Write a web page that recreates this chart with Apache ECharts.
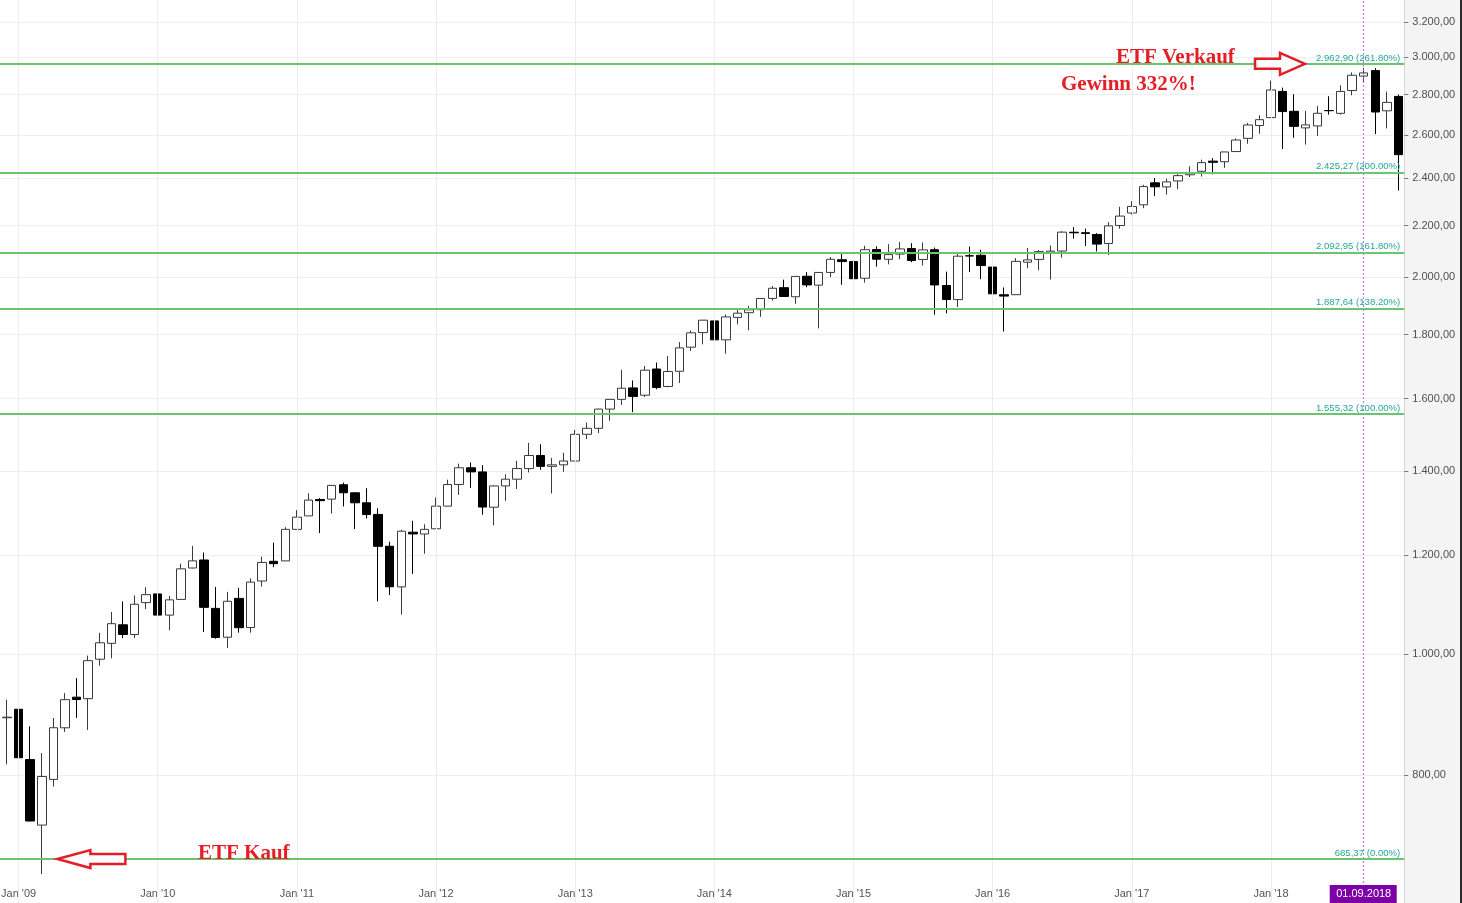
<!DOCTYPE html>
<html><head><meta charset="utf-8">
<script src="https://cdn.jsdelivr.net/npm/echarts@6/dist/echarts.min.js"></script>
<style>html,body{margin:0;padding:0;background:#f4f4f4;overflow:hidden}#c{position:absolute;left:-20px;top:0;width:1482px;height:903px;}</style>
</head><body><div id="c"></div>
<script>
// ---- data ----
var startYear = 2008, startMonth = 11, endYear = 2018, endMonth = 12;
var months = [];
for (var y = startYear, m = startMonth; y < endYear || (y === endYear && m <= endMonth); ) {
  months.push(y + '-' + (m < 10 ? '0' + m : '' + m));
  m++; if (m > 12) { m = 1; y++; }
}
var openV = [
  968.7, 889,
  903.0, 823.1, 729.6, 793.6, 872.7, 923.3, 920.8, 990.2, 1019.5, 1054.9, 1036.2, 1098.9,
  1116.6, 1073.9, 1105.4, 1171.2, 1188.6, 1087.3, 1031.1, 1107.5, 1049.7, 1143.5, 1185.7, 1186.6,
  1257.6, 1289.1, 1328.6, 1329.5, 1365.2, 1345.2, 1320.6, 1292.6, 1219.1, 1131.2, 1251.0, 1246.9,
  1258.9, 1312.5, 1365.9, 1408.5, 1397.9, 1309.9, 1362.3, 1379.3, 1406.5, 1440.9, 1412.2, 1416.2,
  1426.2, 1498.1, 1514.7, 1569.2, 1597.6, 1631.7, 1609.8, 1689.4, 1636.0, 1682.4, 1758.7, 1806.6,
  1845.9, 1782.7, 1857.7, 1874.0, 1884.4, 1923.9, 1962.3, 1929.8, 2004.1, 1971.4, 2018.2, 2065.8,
  2058.9, 1996.7, 2105.2, 2067.6, 2087.4, 2108.6, 2067.0, 2104.5, 1970.1, 1919.7, 2080.8, 2082.9,
  2038.2, 1936.9, 1937.1, 2056.6, 2067.2, 2093.9, 2099.3, 2173.2, 2171.3, 2164.3, 2128.7, 2200.2,
  2251.6, 2285.6, 2380.1, 2362.3, 2388.5, 2415.7, 2431.4, 2477.1, 2474.4, 2521.2, 2583.2, 2645.1,
  2683.7, 2816.5, 2715.2, 2633.5, 2643.0, 2718.7, 2705.0, 2821.2, 2897.0, 2926.3, 2717.6, 2790.5
];
var closeV = [
  896.2, 890,
  825.9, 735.1, 797.9, 872.8, 919.1, 919.3, 987.5, 1020.6, 1057.1, 1036.2, 1095.6, 1115.1,
  1073.9, 1104.5, 1169.4, 1186.7, 1089.4, 1030.7, 1101.6, 1049.3, 1141.2, 1183.3, 1180.6, 1257.6,
  1286.1, 1327.2, 1325.8, 1363.6, 1345.2, 1320.6, 1292.3, 1218.9, 1131.4, 1253.3, 1247.0, 1257.6,
  1312.4, 1365.7, 1408.5, 1397.9, 1310.3, 1362.2, 1379.3, 1406.6, 1440.7, 1412.2, 1416.2, 1426.2,
  1498.1, 1514.7, 1569.2, 1597.6, 1630.7, 1606.3, 1685.7, 1633.0, 1681.6, 1756.5, 1805.8, 1848.4,
  1782.6, 1859.5, 1872.3, 1884.0, 1923.6, 1960.2, 1930.7, 2003.4, 1972.3, 2018.1, 2067.6, 2058.9,
  1995.0, 2104.5, 2067.9, 2085.5, 2107.4, 2063.1, 2103.8, 1972.2, 1920.0, 2079.4, 2080.4, 2043.9,
  1940.2, 1932.2, 2059.7, 2065.3, 2097.0, 2098.9, 2173.6, 2171.0, 2168.3, 2126.2, 2198.8, 2238.8,
  2278.9, 2363.6, 2362.7, 2384.2, 2411.8, 2423.4, 2470.3, 2471.7, 2519.4, 2575.3, 2647.6, 2673.6,
  2823.8, 2713.8, 2640.9, 2648.1, 2705.3, 2718.4, 2816.3, 2901.5, 2914.0, 2711.7, 2760.2, 2506.9
];
var lowV = [
  741.0, 816,
  804.2, 734.5, 666.8, 783.3, 866.1, 888.9, 869.3, 978.5, 992.0, 1029.4, 1029.4, 1085.9,
  1071.6, 1044.5, 1105.4, 1170.7, 1040.8, 1028.3, 1010.9, 1039.7, 1039.7, 1131.9, 1173.0, 1186.6,
  1257.6, 1289.1, 1249.1, 1294.7, 1311.8, 1258.1, 1282.9, 1101.5, 1114.2, 1074.8, 1158.7, 1202.4,
  1258.9, 1312.5, 1340.0, 1357.4, 1292.0, 1266.7, 1325.4, 1354.7, 1396.6, 1403.3, 1343.4, 1398.1,
  1426.2, 1485.0, 1501.5, 1536.0, 1581.3, 1560.3, 1604.6, 1627.5, 1633.4, 1646.5, 1746.2, 1768.0,
  1770.5, 1737.9, 1834.4, 1814.4, 1859.8, 1916.0, 1930.7, 1904.8, 1964.0, 1820.7, 2001.0, 1972.6,
  1988.1, 1980.9, 2039.7, 2048.4, 2067.9, 2056.3, 2044.0, 1867.0, 1871.9, 1893.7, 2019.4, 1993.3,
  1812.3, 1810.1, 1937.1, 2033.8, 2025.9, 1991.7, 2074.0, 2147.6, 2119.1, 2097.5, 2083.8, 2187.4,
  2245.1, 2271.7, 2322.3, 2329.0, 2352.7, 2405.7, 2407.7, 2417.4, 2446.6, 2520.4, 2557.5, 2605.5,
  2682.4, 2532.7, 2585.9, 2553.8, 2594.6, 2698.7, 2699.0, 2796.3, 2864.1, 2603.5, 2631.1, 2346.6
];
var highV = [
  1007.5, 918.9,
  943.9, 875.0, 833.0, 888.7, 930.2, 956.2, 996.7, 1039.5, 1080.2, 1101.4, 1113.7, 1130.4,
  1150.5, 1112.4, 1180.7, 1219.8, 1205.1, 1131.2, 1121.0, 1129.2, 1148.9, 1196.1, 1227.1, 1262.6,
  1302.7, 1344.1, 1332.3, 1364.6, 1370.6, 1345.2, 1356.5, 1307.4, 1229.3, 1256.6, 1277.6, 1269.4,
  1333.5, 1378.0, 1419.2, 1422.4, 1415.3, 1363.5, 1391.7, 1426.7, 1474.5, 1471.0, 1434.3, 1448.0,
  1509.9, 1530.9, 1570.3, 1597.6, 1687.2, 1654.2, 1698.8, 1709.7, 1729.9, 1775.2, 1813.6, 1849.4,
  1850.8, 1867.9, 1884.0, 1897.3, 1924.0, 1968.2, 1991.4, 2005.0, 2019.3, 2018.2, 2075.8, 2093.6,
  2072.4, 2119.6, 2117.5, 2125.9, 2134.7, 2129.9, 2132.8, 2112.7, 2020.9, 2094.3, 2116.5, 2104.3,
  2038.2, 1963.0, 2072.2, 2111.1, 2103.5, 2120.6, 2177.1, 2193.8, 2187.9, 2169.6, 2214.1, 2277.5,
  2301.0, 2371.5, 2401.0, 2398.2, 2418.7, 2453.8, 2484.0, 2490.9, 2519.4, 2583.0, 2657.7, 2695.0,
  2872.9, 2836.0, 2801.9, 2717.5, 2742.2, 2791.5, 2848.0, 2916.5, 2940.9, 2939.9, 2815.2, 2800.2
];
var yTicks = [800, 1000, 1200, 1400, 1600, 1800, 2000, 2200, 2400, 2600, 2800, 3000, 3200];
var fibValues = [2962.90, 2425.27, 2092.95, 1887.64, 1555.32, 685.37];
var fibPct = ['261.80%', '200.00%', '161.80%', '138.20%', '100.00%', '0.00%'];
var markerMonth = '2018-09';
var markerLabel = '01.09.2018';
var buyMonth = '2009-04';

// ---- helpers ----
function de(n) {
  var s = n.toFixed(2).split('.');
  return s[0].replace(/\B(?=(\d{3})+(?!\d))/g, '.') + ',' + s[1];
}
var candles = months.map(function (m, i) { return [openV[i], closeV[i], lowV[i], highV[i]]; });
var janMonths = months.filter(function (m) { return m.slice(5) === '01'; });

var OFF = 20; // chart canvas starts 20px left of the page edge
var chart = echarts.init(document.getElementById('c'), null, { renderer: 'canvas' });
var font = '"Liberation Sans", Arial, sans-serif';
var band = 11.596;
var option = {
  animation: false,
  backgroundColor: '#f4f4f4',
  grid: { left: OFF + 7 - 1.5 * band, right: 1462 - 1404.3, top: 0, bottom: 0, show: true, backgroundColor: '#ffffff', borderWidth: 0 },
  xAxis: {
    type: 'category', data: months, boundaryGap: true,
    axisLine: { show: false }, axisTick: { show: false }, splitLine: { show: false },
    axisLabel: {
      inside: true, margin: 4, color: '#555', fontSize: 11, fontFamily: font,
      interval: function (i, v) { return v.slice(5) === '01'; },
      formatter: function (v) { return "Jan '" + v.slice(2, 4); }
    }
  },
  yAxis: {
    type: 'log', logBase: 10, position: 'right', min: 632.1, max: 3332.6,
    axisLine: { show: true, lineStyle: { color: '#d6d6d6' } },
    axisTick: { show: true, length: 4, customValues: yTicks, lineStyle: { color: '#777' } },
    axisLabel: { customValues: yTicks, margin: 8, color: '#505050', fontSize: 11, fontFamily: font, formatter: function (v) { return de(v); } },
    splitLine: { show: true, lineStyle: { color: '#efefef', width: 1 } }
  },
  series: [
    {
      type: 'line', data: [], z: 1, silent: true,
      markLine: {
        silent: true, symbol: ['none', 'none'], label: { show: false },
        lineStyle: { color: '#ececec', width: 1, type: 'solid' },
        data: janMonths.map(function (m) { return { xAxis: m }; })
      }
    },
    {
      type: 'line', data: [], z: 4, silent: true,
      markLine: {
        silent: true, symbol: ['none', 'none'], label: { show: false },
        lineStyle: { color: '#b25ee0', width: 1.2, type: [2, 2], opacity: 0.8 },
        data: [{ xAxis: markerMonth }]
      }
    },
    {
      type: 'candlestick', data: candles, barWidth: 9, z: 3,
      itemStyle: { color: '#ffffff', color0: '#000000', borderColor: '#3a3a3a', borderColor0: '#000000', borderWidth: 1 },
      markLine: {
        silent: true, symbol: ['none', 'none'],
        data: fibValues.map(function (v, i) {
          return {
            yAxis: v,
            lineStyle: { color: '#6cc46c', width: 2, type: 'solid' },
            label: { show: true, position: 'insideEndTop', distance: [4, 1], color: '#26a69a', fontSize: 9.6, fontFamily: font, formatter: de(v) + ' (' + fibPct[i] + ')' }
          };
        })
      }
    }
  ]
};
chart.setOption(option);

function addGraphics() {
  var topY = chart.convertToPixel({ yAxisIndex: 0 }, fibValues[0]);
  var botY = chart.convertToPixel({ yAxisIndex: 0 }, fibValues[fibValues.length - 1]);
  var mx = chart.convertToPixel({ xAxisIndex: 0 }, markerMonth);
  var bx = chart.convertToPixel({ xAxisIndex: 0 }, buyMonth);
  var red = '#e41e26';
  var tf = 'bold 21px "Liberation Serif", "Times New Roman", serif';
  var ax = bx + 4; // tip of buy arrow just right of the low candle
  var sx = OFF + 1255; // sell arrow tail
  chart.setOption({
    graphic: [
      { type: 'rect', z: 100, shape: { x: OFF + 1460, y: 0, width: 2, height: 903 }, style: { fill: '#2b2b2b' } },
      { type: 'polygon', z: 100, shape: { points: [[ax, botY], [ax + 33, botY - 9], [ax + 33, botY - 5], [ax + 68, botY - 5], [ax + 68, botY + 5], [ax + 33, botY + 5], [ax + 33, botY + 9]] }, style: { fill: '#fff', stroke: red, lineWidth: 2.5 } },
      { type: 'polygon', z: 100, shape: { points: [[sx + 50, topY], [sx + 25, topY - 11], [sx + 25, topY - 5], [sx, topY - 5], [sx, topY + 5], [sx + 25, topY + 5], [sx + 25, topY + 11]] }, style: { fill: '#fff', stroke: red, lineWidth: 2.5 } },
      { type: 'text', z: 100, x: OFF + 1116, y: topY - 6, style: { text: 'ETF Verkauf', font: tf, fill: red, textVerticalAlign: 'middle' } },
      { type: 'text', z: 100, x: OFF + 1061, y: topY + 21, style: { text: 'Gewinn 332%!', font: tf, fill: red, textVerticalAlign: 'middle' } },
      { type: 'text', z: 100, x: OFF + 198, y: botY - 5, style: { text: 'ETF Kauf', font: tf, fill: red, textVerticalAlign: 'middle' } },
      { type: 'rect', z: 100, shape: { x: mx - 34, y: 885, width: 67, height: 18 }, style: { fill: '#7d00a6' } },
      { type: 'text', z: 101, x: mx, y: 894, style: { text: markerLabel, font: '11px ' + font, fill: '#fff', textAlign: 'center', textVerticalAlign: 'middle' } }
    ]
  });
}
addGraphics();
</script></body></html>
